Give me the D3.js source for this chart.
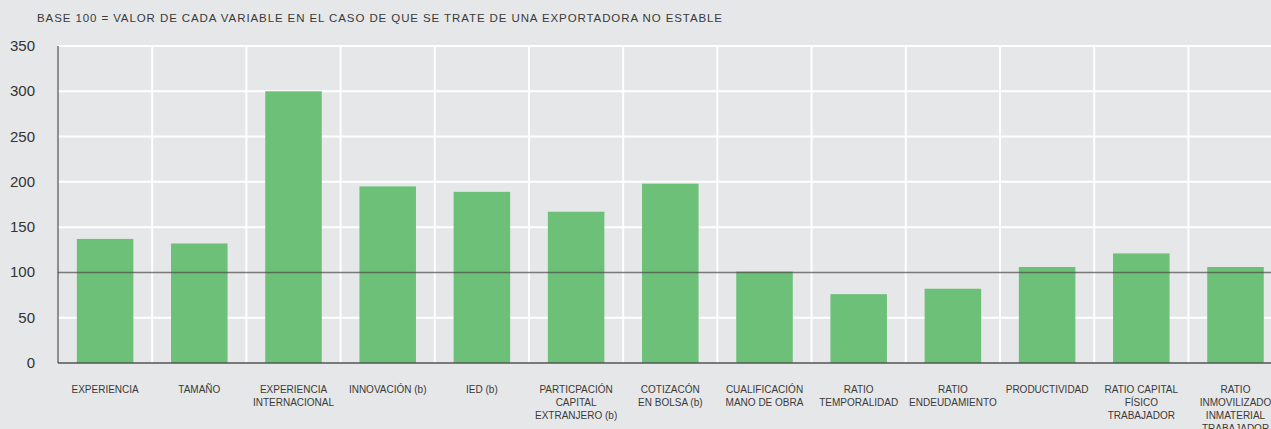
<!DOCTYPE html>
<html lang="es">
<head>
  <meta charset="UTF-8"/>
  <title>Base 100 exportadora no estable</title>
  <style>
    body { margin: 0; background: #e6e7e8; }
    svg { display: block; font-family: "Liberation Sans", Arial, sans-serif; }
  </style>
</head>
<body>
<script src="https://cdn.jsdelivr.net/npm/d3@7"></script>
<script>

// data
var categories = [
  "EXPERIENCIA", "TAMAÑO", "EXPERIENCIA|INTERNACIONAL", "INNOVACIÓN (b)", "IED (b)",
  "PARTICPACIÓN|CAPITAL|EXTRANJERO (b)", "COTIZACÓN|EN BOLSA (b)", "CUALIFICACIÓN|MANO DE OBRA",
  "RATIO|TEMPORALIDAD", "RATIO|ENDEUDAMIENTO", "PRODUCTIVIDAD", "RATIO CAPITAL|FÍSICO|TRABAJADOR",
  "RATIO|INMOVILIZADO|INMATERIAL|TRABAJADOR"
];
var values = [137, 132, 300, 195, 189, 167, 198, 101, 76, 82, 106, 121, 106];
var yTicks = [0, 50, 100, 150, 200, 250, 300, 350];
var baseLine = 100;
var title = "BASE 100 = VALOR DE CADA VARIABLE EN EL CASO DE QUE SE TRATE DE UNA EXPORTADORA NO ESTABLE";

var W = 1271, H = 429;
var x0 = 58, step = 94.2, yTop = 363 - 350 * 0.9057, yBot = 363;

var svg = d3.select("body").append("svg")
    .attr("width", W).attr("height", H);

svg.append("rect").attr("width", W).attr("height", H).attr("fill", "#e6e7e8");

var x = d3.scaleBand().domain(categories)
    .range([x0, x0 + step * categories.length])
    .paddingInner(0.4).paddingOuter(0.2);
var y = d3.scaleLinear().domain([0, 350]).range([yBot, yTop]);

// title
svg.append("text")
    .attr("x", 37).attr("y", 22)
    .attr("font-size", 11.5).attr("fill", "#3a3a3a")
    .attr("textLength", 685).attr("lengthAdjust", "spacing")
    .text(title);

// vertical grid at band boundaries
svg.append("g").selectAll("line")
    .data(categories.slice(1))
    .join("line")
    .attr("x1", function(d) { return x(d) - x.step() * 0.2; })
    .attr("x2", function(d) { return x(d) - x.step() * 0.2; })
    .attr("y1", yTop).attr("y2", yBot)
    .attr("stroke", "#ffffff").attr("stroke-width", 2);

// horizontal grid
svg.append("g").selectAll("line")
    .data(yTicks.filter(function(d) { return d !== 0 && d !== baseLine; }))
    .join("line")
    .attr("x1", x0).attr("x2", W)
    .attr("y1", function(d) { return y(d); })
    .attr("y2", function(d) { return y(d); })
    .attr("stroke", "#ffffff").attr("stroke-width", 2);

// bars
svg.append("g").selectAll("rect")
    .data(values)
    .join("rect")
    .attr("x", function(d, i) { return x(categories[i]); })
    .attr("width", x.bandwidth())
    .attr("y", function(d) { return y(d); })
    .attr("height", function(d) { return yBot - y(d); })
    .attr("fill", "#6cc077");

// base 100 line
svg.append("line")
    .attr("x1", x0).attr("x2", W)
    .attr("y1", y(baseLine)).attr("y2", y(baseLine))
    .attr("stroke", "#4a4a4a").attr("stroke-opacity", 0.7).attr("stroke-width", 1.5);

// axes
svg.append("line")
    .attr("x1", x0).attr("x2", W).attr("y1", yBot).attr("y2", yBot)
    .attr("stroke", "#555").attr("stroke-width", 1.5);
svg.append("line")
    .attr("x1", x0).attr("x2", x0).attr("y1", yTop).attr("y2", yBot)
    .attr("stroke", "#333").attr("stroke-width", 1);

// y tick labels
svg.append("g").selectAll("text")
    .data(yTicks)
    .join("text")
    .attr("x", 35)
    .attr("y", function(d) { return y(d) + 5; })
    .attr("text-anchor", "end")
    .attr("font-size", 15).attr("fill", "#333")
    .text(function(d) { return d; });

// category labels (last one runs off the bottom edge, as in the source)
var lab = svg.append("g").selectAll("text")
    .data(categories)
    .join("text")
    .attr("text-anchor", "middle")
    .attr("font-size", 10).attr("fill", "#3a3a3a")
    .attr("transform", function(d) { return "translate(" + (x(d) + x.bandwidth() / 2) + ",393)"; });

lab.selectAll("tspan")
    .data(function(d) { return d.split("|"); })
    .join("tspan")
    .attr("x", 0)
    .attr("y", function(d, i) { return i * 13; })
    .text(function(d) { return d; });

</script>
</body>
</html>
